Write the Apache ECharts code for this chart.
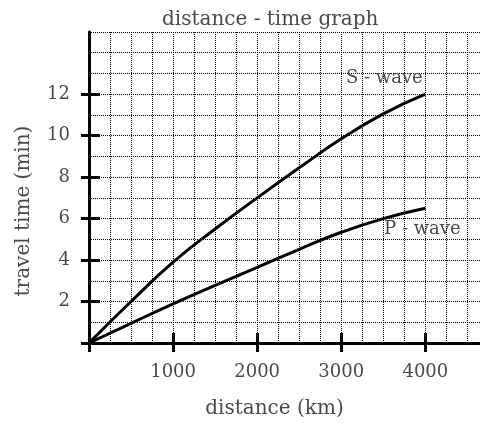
<!DOCTYPE html>
<html>
<head>
<meta charset="utf-8">
<script src="https://cdn.jsdelivr.net/npm/echarts@6/dist/echarts.min.js"></script>
<style>html,body{margin:0;padding:0;background:#fff}#c{width:480px;height:424px}</style>
</head>
<body>
<div id="c"></div>
<script>
// Data
var distances = [0, 500, 1000, 1500, 2000, 2500, 3000, 3500, 4000];
var sWave = [0, 2.0, 3.9, 5.5, 7.0, 8.45, 9.85, 11.05, 12.0];
var pWave = [0, 0.95, 1.89, 2.78, 3.65, 4.52, 5.34, 6.0, 6.5];
var xTickValues = [0, 1000, 2000, 3000, 4000];
var xLabelValues = [1000, 2000, 3000, 4000];
var yTickValues = [0, 2, 4, 6, 8, 10, 12];
var yLabelValues = [2, 4, 6, 8, 10, 12];
var seriesNames = ['S - wave', 'P - wave'];

var FONT = 'DejaVu Serif';
var TXT = '#4a4a4a';

function pairs(xs, ys) { return xs.map(function (x, i) { return [x, ys[i]]; }); }
function plain(v) { return String(v); }

var chart = echarts.init(document.getElementById('c'), null, {renderer: 'canvas'});
var dotted = {show: true, lineStyle: {color: '#000', type: 'dotted', width: 1}};
var none = {show: false};

chart.setOption({
  animation: false,
  backgroundColor: '#fff',
  title: {
    text: 'distance - time graph', left: 157, top: 5,
    textStyle: {fontFamily: FONT, fontSize: 20, fontWeight: 'normal', color: TXT}
  },
  grid: {left: 89, right: 0, top: 32, bottom: 78, containLabel: false},
  xAxis: [
    {type: 'value', min: 0, max: 4650, interval: 250, position: 'bottom',
     axisLine: none, axisTick: none, axisLabel: none, splitLine: dotted},
    {type: 'value', min: 0, max: 4650, position: 'bottom',
     axisLine: {show: true, onZero: false, lineStyle: {color: '#000', width: 3}},
     axisTick: {show: true, customValues: xTickValues, length: 9, lineStyle: {color: '#000', width: 3}},
     axisLabel: {show: true, customValues: xLabelValues, formatter: plain, margin: 20, fontFamily: FONT, fontSize: 18, color: TXT},
     splitLine: none,
     name: 'distance (km)', nameLocation: 'middle', nameGap: 56,
     nameTextStyle: {fontFamily: FONT, fontSize: 20, color: TXT, padding: [0, 20, 0, 0]}},
    {type: 'value', min: 0, max: 4650, position: 'bottom',
     axisLine: {show: false, onZero: false},
     axisTick: {show: true, inside: true, customValues: xTickValues, length: 10, lineStyle: {color: '#000', width: 3}},
     axisLabel: none, splitLine: none}
  ],
  yAxis: [
    {type: 'value', min: 0, max: 15, interval: 1, position: 'left',
     axisLine: none, axisTick: none, axisLabel: none, splitLine: dotted},
    {type: 'value', min: 0, max: 15, position: 'left',
     axisLine: {show: true, onZero: false, lineStyle: {color: '#000', width: 3}},
     axisTick: {show: true, customValues: yTickValues, length: 8, lineStyle: {color: '#000', width: 3}},
     axisLabel: {show: true, customValues: yLabelValues, formatter: plain, margin: 19, fontFamily: FONT, fontSize: 18, color: TXT},
     splitLine: none,
     name: 'travel time (min)', nameLocation: 'middle', nameGap: 55,
     nameTextStyle: {fontFamily: FONT, fontSize: 20, color: TXT, padding: [0, 47, 0, 0]}},
    {type: 'value', min: 0, max: 15, position: 'left',
     axisLine: {show: false, onZero: false},
     axisTick: {show: true, inside: true, customValues: yTickValues, length: 11, lineStyle: {color: '#000', width: 3}},
     axisLabel: none, splitLine: none}
  ],
  series: [
    {name: seriesNames[0], type: 'line', xAxisIndex: 0, yAxisIndex: 0,
     data: pairs(distances, sWave), smooth: true, symbol: 'none',
     lineStyle: {color: '#000', width: 3},
     markPoint: {symbol: 'circle', symbolSize: 1, itemStyle: {color: 'rgba(0,0,0,0)'},
       label: {show: true, position: 'inside', offset: [-41, -16], formatter: seriesNames[0],
               fontFamily: FONT, fontSize: 18, color: TXT},
       data: [{coord: [distances[distances.length - 1], sWave[sWave.length - 1]]}]}},
    {name: seriesNames[1], type: 'line', xAxisIndex: 0, yAxisIndex: 0,
     data: pairs(distances, pWave), smooth: true, symbol: 'none',
     lineStyle: {color: '#000', width: 3},
     markPoint: {symbol: 'circle', symbolSize: 1, itemStyle: {color: 'rgba(0,0,0,0)'},
       label: {show: true, position: 'inside', offset: [-3, 21], formatter: seriesNames[1],
               fontFamily: FONT, fontSize: 18, color: TXT},
       data: [{coord: [distances[distances.length - 1], pWave[pWave.length - 1]]}]}}
  ]
});
</script>
</body>
</html>
